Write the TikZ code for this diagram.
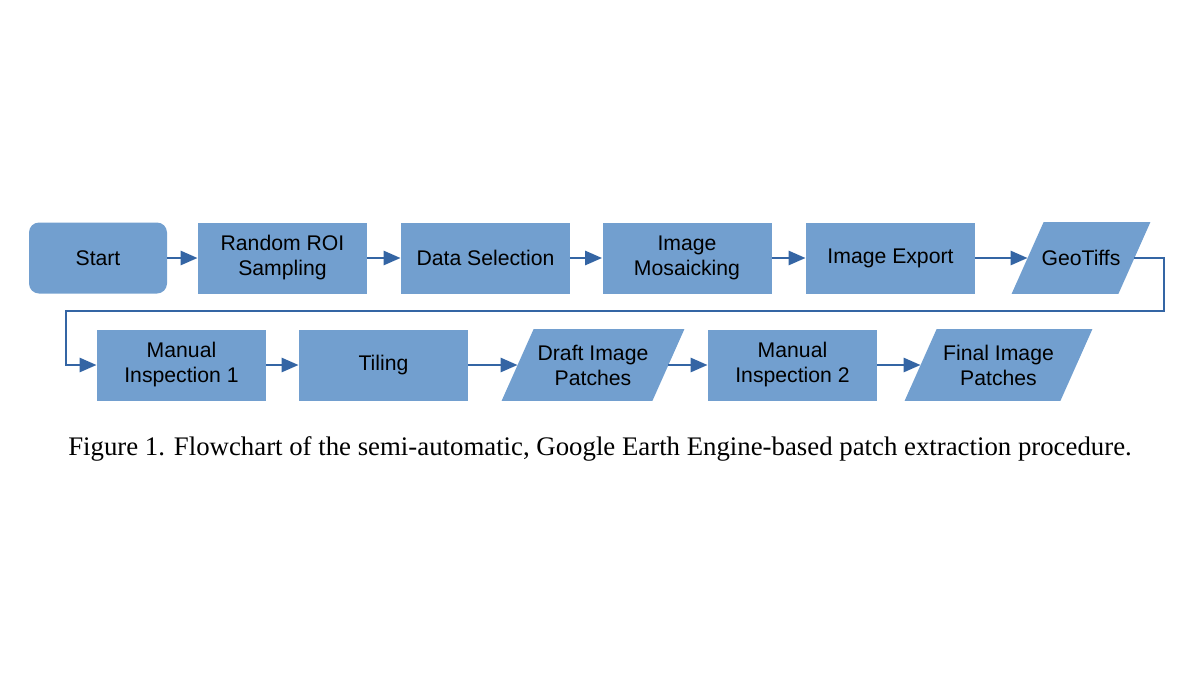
\documentclass[tikz,border=0pt]{standalone}
\usepackage{fontspec}
\setmainfont{Liberation Sans}
\newfontfamily\capfont{Liberation Serif}
\usepackage{tikz}
\usetikzlibrary{arrows.meta,backgrounds}
\definecolor{boxblue}{HTML}{729FCF}
\definecolor{linkblue}{HTML}{3465A4}

\begin{document}
\begin{tikzpicture}[x=0.5pt, y=-0.5pt, >={Triangle[length=8.5pt,width=7pt]},
  every node/.style={font=\fontsize{10.6}{12.5}\selectfont, align=center, inner sep=0pt},
  procbox/.style={rectangle, fill=boxblue, minimum width=84.5pt, minimum height=35.5pt},
  startbox/.style={procbox, rounded corners=5pt, minimum width=69pt},
  databox/.style={rectangle, minimum width=77.5pt, minimum height=35.5pt},
  link/.style={->, draw=linkblue, line width=1.4pt}]
\useasboundingbox (0,0) rectangle (1200,675);
\node[startbox] (start) at (98,258) {Start};
\node[procbox] (roi) at (282.5,258) {Random ROI\\Sampling};
\node[procbox] (sel) at (485.5,258) {Data Selection};
\node[procbox] (mosaic) at (687,258) {Image\\Mosaicking};
\node[procbox] (export) at (890.5,258) {Image Export};
\node[databox, minimum width=53pt] (geo) at (1081,258) {GeoTiffs};
\node[procbox] (insp1) at (181.5,365) {Manual\\Inspection 1};
\node[procbox] (tiling) at (383.5,365) {Tiling};
\node[databox, minimum width=75pt] (draft) at (593,365) {Draft Image\\Patches};
\node[procbox] (insp2) at (792.5,365) {Manual\\Inspection 2};
\node[databox] (final) at (998.5,365) {Final Image\\Patches};
\begin{scope}[on background layer]
\foreach \n in {geo,draft,final}
  \fill[boxblue] ([xshift=-8pt]\n.south west) -- ([xshift=-8pt]\n.south east)
    -- ([xshift=8pt]\n.north east) -- ([xshift=8pt]\n.north west) -- cycle;
\end{scope}
\coordinate (wrapR) at (1164,311);
\coordinate (wrapL) at (66,311);
\draw[link] (start) -- (roi);
\draw[link] (roi) -- (sel);
\draw[link] (sel) -- (mosaic);
\draw[link] (mosaic) -- (export);
\draw[link] (export) -- (geo);
\draw[link] (geo.east) -| (wrapR) -- (wrapL) |- (insp1.west);
\draw[link] (insp1) -- (tiling);
\draw[link] (tiling) -- (draft);
\draw[link] (draft) -- (insp2);
\draw[link] (insp2) -- (final);
\node[font=\capfont\fontsize{13.4}{16}\selectfont] (caption) at (600,449) {Figure 1. Flowchart of the semi-automatic, Google Earth Engine-based patch extraction procedure.};
\end{tikzpicture}
\end{document}
